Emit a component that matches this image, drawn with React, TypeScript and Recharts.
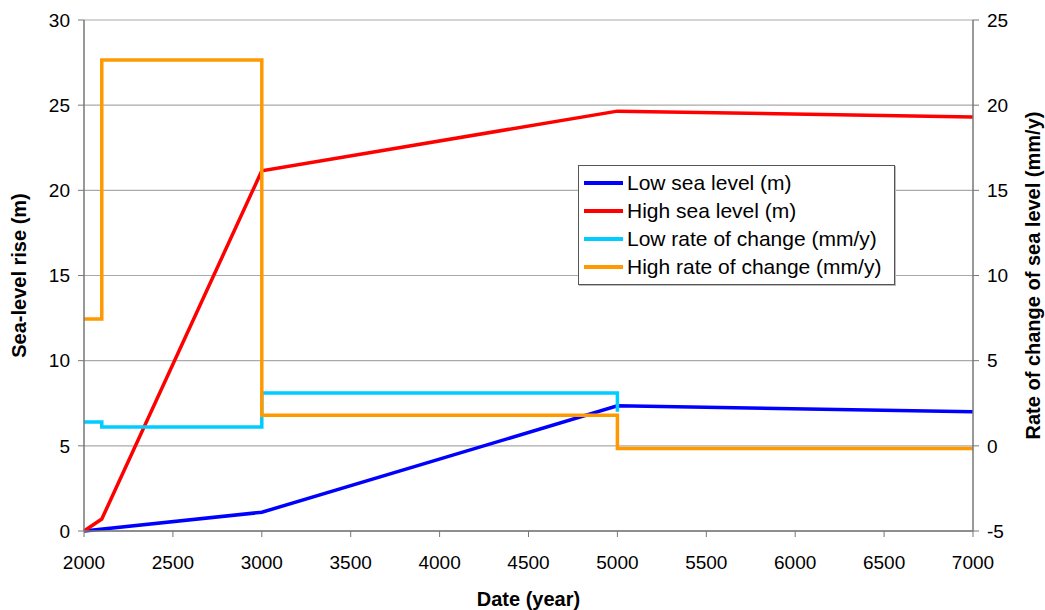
import React from "react";
import { LineChart, Line, XAxis, YAxis, CartesianGrid } from "recharts";

const FONT = "'Liberation Sans', Arial, sans-serif";

const xTicks = [2000, 2500, 3000, 3500, 4000, 4500, 5000, 5500, 6000, 6500, 7000];
const leftTicks = [0, 5, 10, 15, 20, 25, 30];
const rightTicks = [-5, 0, 5, 10, 15, 20, 25];

// sea level (m), left axis
const lowSeaYears = [2000, 3000, 5000, 7000];
const lowSeaValues = [0, 1.1, 7.35, 7.0];
const highSeaYears = [2000, 2100, 3000, 5000, 7000];
const highSeaValues = [0, 0.7, 21.15, 24.65, 24.3];

// rate of change (mm/y), right axis, stepped
const lowRateYears = [2000, 2100, 2100, 3000, 3000, 5000, 5000];
const lowRateValues = [1.4, 1.4, 1.1, 1.1, 3.1, 3.1, 2.0];
const highRateYears = [2000, 2100, 2100, 3000, 3000, 5000, 5000, 7000];
const highRateValues = [7.45, 7.45, 22.65, 22.65, 1.8, 1.8, -0.15, -0.15];

const toPoints = (xs: number[], ys: number[]) => xs.map((x, i) => ({ year: x, value: ys[i] }));

const SERIES = [
  { name: "Low sea level (m)", color: "#0000ff", axis: "left", data: toPoints(lowSeaYears, lowSeaValues) },
  { name: "High sea level (m)", color: "#ff0000", axis: "left", data: toPoints(highSeaYears, highSeaValues) },
  { name: "Low rate of change (mm/y)", color: "#00ccff", axis: "right", data: toPoints(lowRateYears, lowRateValues) },
  { name: "High rate of change (mm/y)", color: "#ff9900", axis: "right", data: toPoints(highRateYears, highRateValues) },
];

function LegendBox() {
  return (
    <div
      style={{
        position: "absolute",
        left: 578,
        top: 165,
        width: 308,
        border: "1px solid #555",
        background: "#fff",
        padding: "3px 2px 3px 5px",
        fontFamily: FONT,
        fontSize: 21,
        color: "#000",
        boxShadow: "1px 1px 0 #bbb",
        whiteSpace: "nowrap",
      }}
    >
      {SERIES.map((s) => (
        <div key={s.name} style={{ display: "flex", alignItems: "center", height: 28 }}>
          <span style={{ display: "inline-block", width: 39, height: 4, background: s.color, marginRight: 4 }} />
          <span>{s.name}</span>
        </div>
      ))}
    </div>
  );
}

const tickStyle = { fill: "#000", fontSize: 19, fontFamily: FONT };
const axisLine = { stroke: "#777", strokeWidth: 1.5 };
const titleStyle = { textAnchor: "middle" as const, fontFamily: FONT, fontSize: 20, fontWeight: "bold", fill: "#000" };

export default function App() {
  return (
    <div style={{ position: "absolute", left: 0, top: 0, width: 1045, height: 610, background: "#fff" }}>
      <LineChart width={1045} height={610} margin={{ top: 20, right: 0, left: 0, bottom: 0 }}>
        <CartesianGrid yAxisId="left" vertical={false} stroke="#aaa" strokeWidth={1.2} />
        <XAxis
          dataKey="year"
          type="number"
          domain={[2000, 7000]}
          ticks={xTicks}
          allowDuplicatedCategory={false}
          height={79}
          tick={tickStyle}
          axisLine={axisLine}
          tickLine={{ stroke: "#777" }}
          tickSize={6}
          tickMargin={19}
          label={{ value: "Date (year)", position: "insideBottom", offset: 4, style: titleStyle }}
        />
        <YAxis
          yAxisId="left"
          domain={[0, 30]}
          ticks={leftTicks}
          width={84}
          tick={tickStyle}
          axisLine={axisLine}
          tickLine={{ stroke: "#777" }}
          tickSize={6}
          tickMargin={8}
          label={{ value: "Sea-level rise (m)", angle: -90, position: "insideLeft", offset: 19, style: titleStyle }}
        />
        <YAxis
          yAxisId="right"
          orientation="right"
          domain={[-5, 25]}
          ticks={rightTicks}
          width={72}
          tick={tickStyle}
          axisLine={axisLine}
          tickLine={{ stroke: "#777" }}
          tickSize={6}
          tickMargin={8}
          label={{ value: "Rate of change of sea level (mm/y)", angle: -90, position: "insideRight", offset: 12, style: titleStyle }}
        />
        {SERIES.map((s) => (
          <Line
            key={s.name}
            yAxisId={s.axis}
            data={s.data}
            dataKey="value"
            name={s.name}
            type="linear"
            stroke={s.color}
            strokeWidth={3.5}
            dot={false}
            activeDot={false}
            isAnimationActive={false}
          />
        ))}
      </LineChart>
      <LegendBox />
    </div>
  );
}
